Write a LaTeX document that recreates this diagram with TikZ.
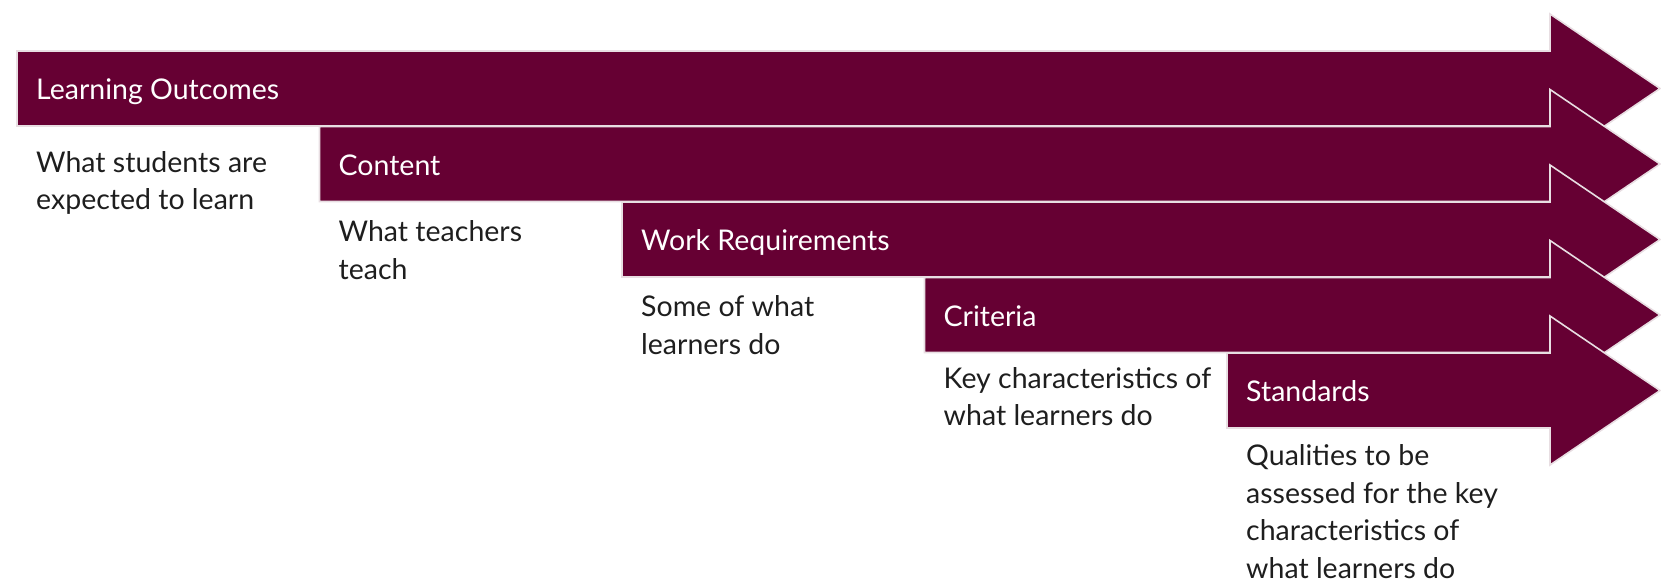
\documentclass[tikz,border=0pt]{standalone}
\usepackage{fontspec}
\setmainfont{Lato}
\definecolor{maroon}{RGB}{102,0,51}
\definecolor{edge}{RGB}{232,222,226}
\definecolor{desc}{RGB}{30,30,30}
\tikzset{
  arrowshape/.style={fill=maroon, draw=edge, line width=1.6pt, line join=miter},
  lbl/.style={anchor=base west, text=white, font=\fontsize{28.5}{34}\selectfont, inner sep=0pt},
  dsc/.style={anchor=base west, text=desc, align=left, font=\fontsize{28.5}{37.5}\selectfont, inner sep=0pt},
}
\begin{document}
\begin{tikzpicture}[x=1pt,y=-1pt]
\useasboundingbox (0,0) rectangle (1661,584);
\foreach \i/\lab/\nm in {0/Learning Outcomes/lo,1/Content/co,2/Work Requirements/wr,3/Criteria/cr,4/Standards/st}{
  \pgfmathsetmacro{\L}{17+302.5*\i}
  \pgfmathsetmacro{\T}{51+75.5*\i}
  \pgfmathsetmacro{\B}{\T+75}
  \pgfmathsetmacro{\C}{\T+37.5}
  \pgfmathsetmacro{\HT}{\T-37}
  \pgfmathsetmacro{\HB}{\B+37}
  \draw[arrowshape] (\L,\T) -- (1550,\T) -- (1550,\HT) -- (1660,\C) -- (1550,\HB) -- (1550,\B) -- (\L,\B) -- cycle;
  \node[lbl] (\nm) at (\L+19,\C+11) {\lab};
}
\node[dsc] (d1) at (36,209.5) {What students are\\expected to learn};
\node[dsc] (d2) at (338.5,279) {What teachers\\teach};
\node[dsc] (d3) at (641,354) {Some of what\\learners do};
\node[dsc] (d4) at (943.5,425.5) {Key characteristics of\\what learners do};
\node[dsc] (d5) at (1246,578) {Qualities to be\\assessed for the key\\characteristics of\\what learners do};
\end{tikzpicture}
\end{document}
